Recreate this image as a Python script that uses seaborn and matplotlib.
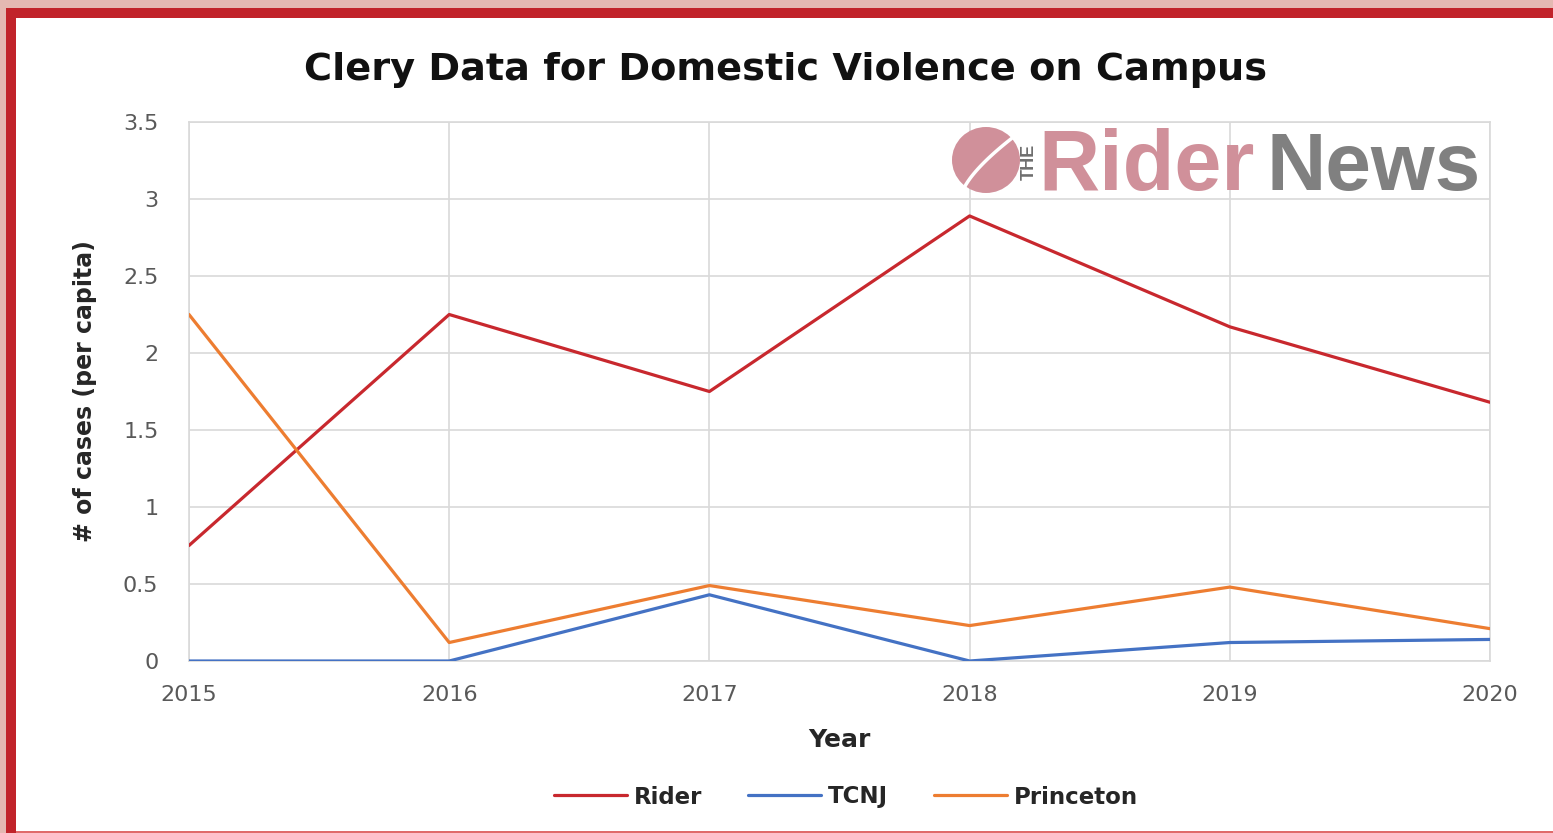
import pandas as pd
import numpy as np
import matplotlib.pyplot as plt
import matplotlib.patches as patches
import seaborn as sns


years = [2015, 2016, 2017, 2018, 2019, 2020]
rider = [0.75, 2.25, 1.75, 2.89, 2.17, 1.68]
tcnj = [0.0, 0.0, 0.43, 0.0, 0.12, 0.14]
princeton = [2.25, 0.12, 0.49, 0.23, 0.48, 0.21]

schools = ['Rider', 'TCNJ', 'Princeton']
colors = ['#C8282E', '#4472C4', '#ED7D31']
yticks = [0, 0.5, 1, 1.5, 2, 2.5, 3, 3.5]
ytick_labels = ['0', '0.5', '1', '1.5', '2', '2.5', '3', '3.5']


def main():

    sns.set_style('white')
    plt.rcParams['font.family'] = ['DejaVu Sans']

    df = pd.DataFrame({
        'Year': years * 3,
        'value': rider + tcnj + princeton,
        'School': [s for s in schools for _ in years],
    })

    W, H = 1553, 833
    fig = plt.figure(figsize=(W / 100, H / 100), dpi=100)
    fig.patch.set_facecolor('#E4B8B2')

    # frame: red band then white card (drawn below the axes)
    fig.patches.append(patches.Rectangle((6 / W, 0), 1, 1 - 8 / H, transform=fig.transFigure,
                                         facecolor='#C1232A', edgecolor='none', zorder=-2))
    fig.patches.append(patches.Rectangle((16 / W, 2 / H), 1, 1 - 20 / H, transform=fig.transFigure,
                                         facecolor='white', edgecolor='none', zorder=-1))
    fig.patches.append(patches.Rectangle((16 / W, 0), 1, 2 / H, transform=fig.transFigure,
                                         facecolor='#E06A6A', edgecolor='none', zorder=-1))

    ax = fig.add_axes([189 / W, 1 - 661 / H, (1490 - 189) / W, (661 - 122) / H])
    ax.set_facecolor('none')

    sns.lineplot(data=df, x='Year', y='value', hue='School', palette=colors,
                 linewidth=2.3, ax=ax, legend=False, zorder=3)

    ax.set_xlim(2015, 2020)
    ax.set_ylim(0, 3.5)
    ax.set_yticks(yticks)
    ax.set_yticklabels(ytick_labels)
    ax.set_xticks(years)
    ax.grid(True, color='#D9D9D9', linewidth=1.2)
    for sp in ax.spines.values():
        sp.set_color('#D9D9D9')
        sp.set_linewidth(1.2)
    ax.tick_params(axis='y', length=0, pad=22, labelsize=16, labelcolor='#595959')
    ax.tick_params(axis='x', length=0, pad=17, labelsize=16, labelcolor='#595959')

    ax.set_xlabel('Year', fontsize=18, fontweight='bold', labelpad=17)
    ax.set_ylabel('# of cases (per capita)', fontsize=17, fontweight='bold', labelpad=19)

    fig.text(786 / W, 1 - 70 / H, 'Clery Data for Domestic Violence on Campus',
             ha='center', va='center', fontsize=27.5, fontweight='bold', color='#111111')

    # legend
    handles = [plt.Line2D([], [], color=c, linewidth=2.3) for c in colors]
    fig.legend(handles, schools, loc='center', bbox_to_anchor=(846 / W, 1 - 797 / H),
               ncol=3, frameon=False, prop={'weight': 'bold', 'size': 16.5},
               handlelength=3.2, handletextpad=0.3, columnspacing=2.0)

    # watermark logo
    fig.add_artist(patches.Ellipse((986 / W, 1 - 160 / H), 68 / W, 66 / H, transform=fig.transFigure,
                                   facecolor='#D0909A', edgecolor='none', zorder=5))
    t = np.linspace(0, 1, 30)
    fig.add_artist(plt.Line2D((962 + 58 * t) / W, 1 - (194 - 62 * t ** 0.7) / H,
                              transform=fig.transFigure, color='white', linewidth=2.5, zorder=6))
    fig.text(1029 / W, 1 - 162 / H, 'THE', rotation=90, ha='center', va='center',
             fontsize=13, fontweight='bold', color='#6E6E6E', family='Liberation Sans')
    fig.text(1038 / W, 1 - 190 / H, 'Rider', ha='left', va='baseline', fontsize=61,
             fontweight='bold', color='#D0909A', family='Liberation Sans')
    fig.text(1266 / W, 1 - 190 / H, 'News', ha='left', va='baseline', fontsize=59,
             fontweight='bold', color='#808080', family='Liberation Sans')

    plt.savefig('out.png', dpi=100, facecolor=fig.get_facecolor())


if __name__ == '__main__':
    main()
